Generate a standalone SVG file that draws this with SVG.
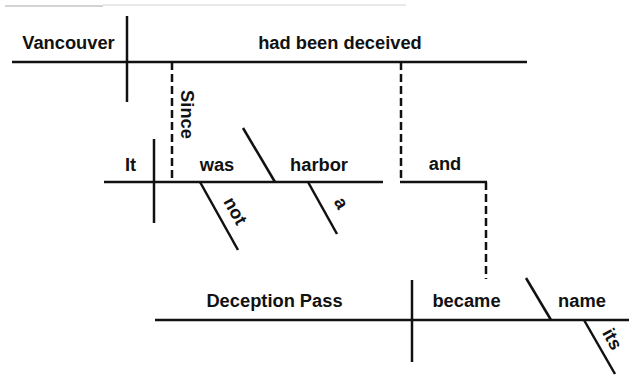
<svg xmlns="http://www.w3.org/2000/svg" width="629" height="379" viewBox="0 0 629 379">
<style>
.ln{stroke:#111;stroke-width:2.5;fill:none;stroke-linecap:butt}
.ds{stroke:#111;stroke-width:2.5;fill:none;stroke-dasharray:8 4}
.t{font-family:"Liberation Sans",Arial,sans-serif;font-weight:bold;font-size:18.3px;fill:#111;text-anchor:middle}
.scan{stroke-width:1.5;fill:none}
</style>
<rect width="629" height="379" fill="#fff"/>
<line class="scan" x1="5" y1="6" x2="103" y2="6" stroke="#c4c4c4"/>
<line class="scan" x1="103" y1="5" x2="406" y2="5" stroke="#e0e0e0"/>

<g id="connectors">
<line class="ds" x1="172" y1="62" x2="172" y2="182"/>
<polyline class="ds" points="401,62 401,182"/>
<line class="ln" x1="400" y1="182" x2="487" y2="182"/>
<line class="ds" x1="486" y1="182" x2="486" y2="279"/>
</g>

<g id="clause-main">
<line class="ln" x1="12" y1="62" x2="527" y2="62"/>
<line class="ln" x1="127" y1="16" x2="127" y2="102"/>
<text class="t" x="68.5" y="48.5">Vancouver</text>
<text class="t" x="340" y="48.5">had been deceived</text>
</g>

<g id="since">
<text class="t" transform="translate(180.5,114.5) rotate(90)">Since</text>
</g>

<g id="clause-since">
<line class="ln" x1="104" y1="182" x2="383" y2="182"/>
<line class="ln" x1="154" y1="139" x2="154" y2="223"/>
<line class="ln" x1="243" y1="128" x2="275" y2="182"/>
<text class="t" x="130.5" y="171">It</text>
<text class="t" x="217" y="171">was</text>
<text class="t" x="319" y="171">harbor</text>
</g>

<g id="not">
<line class="ln" x1="200" y1="182" x2="238" y2="250"/>
<text class="t" transform="translate(230,214) rotate(61)">not</text>
</g>

<g id="a">
<line class="ln" x1="308" y1="182" x2="337" y2="234"/>
<text class="t" transform="translate(336,206) rotate(61)">a</text>
</g>

<g id="and">
<text class="t" x="445" y="170">and</text>
</g>

<g id="clause-pass">
<line class="ln" x1="155" y1="320" x2="629" y2="320"/>
<line class="ln" x1="412" y1="280" x2="412" y2="362"/>
<line class="ln" x1="526" y1="278" x2="551" y2="320"/>
<text class="t" x="274.5" y="307">Deception Pass</text>
<text class="t" x="466.5" y="307">became</text>
<text class="t" x="582" y="307">name</text>
</g>

<g id="its">
<line class="ln" x1="584" y1="320" x2="615" y2="374"/>
<text class="t" transform="translate(607,342) rotate(61)">its</text>
</g>
</svg>
